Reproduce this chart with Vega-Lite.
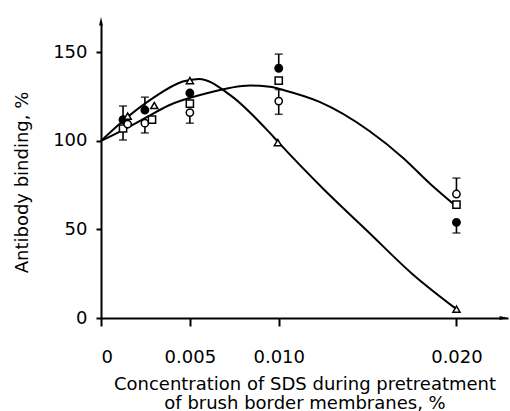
{
  "$schema": "https://vega.github.io/schema/vega-lite/v6.json",
  "width": 407,
  "height": 294,
  "autosize": "none",
  "padding": {"left": 101, "top": 24, "right": 2, "bottom": 93},
  "background": "white",
  "config": {
    "view": {"stroke": null},
    "font": "DejaVu Sans",
    "axis": {
      "grid": false,
      "domainColor": "black",
      "domainWidth": 2,
      "tickColor": "black",
      "tickWidth": 2,
      "labelColor": "black",
      "titleColor": "black",
      "labelFontSize": 18,
      "titleFontSize": 18,
      "labelFont": "DejaVu Sans",
      "titleFont": "DejaVu Sans",
      "titleFontWeight": "normal"
    }
  },
  "datasets": {
    "curves": [
      {"series": "A", "x": 0, "y": 100},
      {"series": "A", "x": 0.0012, "y": 106},
      {"series": "A", "x": 0.0025, "y": 113},
      {"series": "A", "x": 0.0038, "y": 120},
      {"series": "A", "x": 0.0058, "y": 126.5},
      {"series": "A", "x": 0.0084, "y": 131.3},
      {"series": "A", "x": 0.0095, "y": 130.6},
      {"series": "A", "x": 0.0103, "y": 128.6},
      {"series": "A", "x": 0.0123, "y": 122},
      {"series": "A", "x": 0.0151, "y": 105.6},
      {"series": "A", "x": 0.017, "y": 90.4},
      {"series": "A", "x": 0.0185, "y": 76},
      {"series": "A", "x": 0.02, "y": 63},
      {"series": "B", "x": 0, "y": 100},
      {"series": "B", "x": 0.0012, "y": 111},
      {"series": "B", "x": 0.0029, "y": 124},
      {"series": "B", "x": 0.0046, "y": 133.5},
      {"series": "B", "x": 0.0055, "y": 135},
      {"series": "B", "x": 0.00725, "y": 126},
      {"series": "B", "x": 0.0095, "y": 104.5},
      {"series": "B", "x": 0.01, "y": 99},
      {"series": "B", "x": 0.0125, "y": 73},
      {"series": "B", "x": 0.015, "y": 49},
      {"series": "B", "x": 0.0175, "y": 25},
      {"series": "B", "x": 0.02, "y": 5}
    ],
    "errs": [
      {"x": 0.00124, "from": 112, "to": 119.7},
      {"x": 0.00124, "from": 107, "to": 100.5},
      {"x": 0.00247, "from": 117.4, "to": 124.7},
      {"x": 0.00247, "from": 110, "to": 104.5},
      {"x": 0.005, "from": 116, "to": 110},
      {"x": 0.01, "from": 141, "to": 149},
      {"x": 0.01, "from": 122.5, "to": 129},
      {"x": 0.01, "from": 122.5, "to": 115},
      {"x": 0.02, "from": 70, "to": 79},
      {"x": 0.02, "from": 54, "to": 48}
    ],
    "points": [
      {"s": "filled", "x": 0.00124, "y": 112},
      {"s": "square", "x": 0.00124, "y": 107},
      {"s": "triangle", "x": 0.0015, "y": 114},
      {"s": "open", "x": 0.0015, "y": 109.5},
      {"s": "filled", "x": 0.00247, "y": 117.4},
      {"s": "triangle", "x": 0.003, "y": 120},
      {"s": "open", "x": 0.00247, "y": 110},
      {"s": "square", "x": 0.00287, "y": 112},
      {"s": "triangle", "x": 0.005, "y": 134},
      {"s": "filled", "x": 0.005, "y": 127},
      {"s": "square", "x": 0.005, "y": 121},
      {"s": "open", "x": 0.005, "y": 116},
      {"s": "filled", "x": 0.01, "y": 141},
      {"s": "square", "x": 0.01, "y": 134},
      {"s": "open", "x": 0.01, "y": 122.5},
      {"s": "triangle", "x": 0.00995, "y": 99},
      {"s": "open", "x": 0.02, "y": 70},
      {"s": "square", "x": 0.02, "y": 64},
      {"s": "filled", "x": 0.02, "y": 54},
      {"s": "triangle", "x": 0.02, "y": 5}
    ],
    "arrowUp": [{"x": 0, "y": 167.1}],
    "arrowRight": [{"x": 0.02262, "y": 0}]
  },
  "encoding": {
    "x": {
      "field": "x",
      "type": "quantitative",
      "scale": {"domain": [0, 0.0229], "nice": false, "zero": true},
      "axis": {
        "values": [0, 0.005, 0.01, 0.02],
        "labelExpr": "datum.value == 0 ? '0' : format(datum.value, '.3f')",
        "tickSize": 8,
        "labelPadding": 22,
        "title": ["Concentration of SDS during pretreatment", "of brush border membranes, %"],
        "titleLineHeight": 19,
        "titleBaseline": "top",
        "titleY": 57
      }
    },
    "y": {
      "field": "y",
      "type": "quantitative",
      "scale": {"domain": [0, 166], "nice": false, "zero": true},
      "axis": {
        "values": [0, 50, 100, 150],
        "tickSize": 5,
        "labelPadding": 9,
        "title": "Antibody binding, %",
        "titleX": -79,
        "titleY": 158,
        "titleAngle": -90,
        "titleAlign": "center",
        "titleBaseline": "middle"
      }
    }
  },
  "layer": [
    {
      "data": {"name": "curves"},
      "mark": {"type": "line", "interpolate": "monotone", "color": "black", "strokeWidth": 2},
      "encoding": {"detail": {"field": "series"}}
    },
    {
      "data": {"name": "errs"},
      "mark": {"type": "rule", "color": "black", "strokeWidth": 1.6},
      "encoding": {"y": {"field": "from", "type": "quantitative"}, "y2": {"field": "to"}}
    },
    {
      "data": {"name": "errs"},
      "mark": {"type": "tick", "orient": "horizontal", "color": "black", "thickness": 1.6, "size": 8},
      "encoding": {"y": {"field": "to", "type": "quantitative"}}
    },
    {
      "data": {"name": "points"},
      "mark": {"type": "point", "filled": true, "stroke": "black", "strokeWidth": 1.5, "opacity": 1},
      "encoding": {
        "shape": {"field": "s", "type": "nominal", "scale": {"domain": ["filled", "open", "square", "triangle"], "range": ["circle", "circle", "square", "triangle-up"]}, "legend": null},
        "fill": {"field": "s", "type": "nominal", "scale": {"domain": ["filled", "open", "square", "triangle"], "range": ["black", "white", "white", "white"]}, "legend": null},
        "size": {"field": "s", "type": "nominal", "scale": {"domain": ["filled", "open", "square", "triangle"], "range": [55, 50, 56, 70]}, "legend": null}
      }
    },
    {
      "data": {"name": "arrowUp"},
      "mark": {"type": "point", "filled": true, "color": "black", "opacity": 1, "size": 100, "shape": "M0,-1L0.38,0.7L-0.38,0.7Z"}
    },
    {
      "data": {"name": "arrowRight"},
      "mark": {"type": "point", "filled": true, "color": "black", "opacity": 1, "size": 100, "shape": "M1,0L-0.7,0.38L-0.7,-0.38Z"}
    }
  ]
}
